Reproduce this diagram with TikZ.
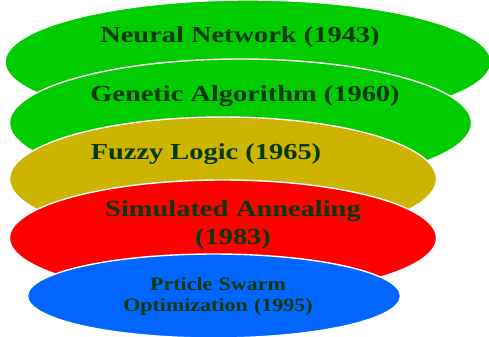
\documentclass[tikz,border=0pt]{standalone}
\usepackage{fontspec}
\setmainfont{Liberation Serif}
\newfontfamily\stretchedserif[FakeStretch=1.24]{Liberation Serif}
\newfontfamily\stretchedsmall[FakeStretch=1.16]{Liberation Serif}
\usetikzlibrary{shapes.geometric}
\definecolor{cgreen}{RGB}{0,204,0}
\definecolor{cgold}{RGB}{204,180,0}
\definecolor{cred}{RGB}{255,0,0}
\definecolor{cblue}{RGB}{0,102,255}
\definecolor{ctext}{RGB}{8,56,10}
\tikzset{
  disc/.style={ellipse,draw=white,line width=1.4bp,inner sep=0pt,outer sep=0pt},
  lab/.style={text=ctext,font=\stretchedserif\bfseries\fontsize{23}{23}\selectfont,align=center,inner sep=0pt},
  labsmall/.style={text=ctext,font=\stretchedsmall\bfseries\fontsize{19}{19}\selectfont,align=center,inner sep=0pt}
}
\begin{document}
\begin{tikzpicture}[x=1bp,y=-1bp]
\useasboundingbox (0,0) rectangle (489,336);
\node[disc,fill=cgreen,minimum width=486bp,minimum height=124bp] (e1) at (248,62) {};
\node[disc,fill=cgreen,minimum width=462bp,minimum height=128bp] (e2) at (240.5,123) {};
\node[disc,fill=cgold,minimum width=427bp,minimum height=124bp] (e3) at (223,179) {};
\node[disc,fill=cred,minimum width=427bp,minimum height=116bp] (e4) at (223,238) {};
\node[disc,fill=cblue,minimum width=373bp,minimum height=84bp] (e5) at (214,296) {};
\node[lab] (t1) at (240,37) {Neural Network (1943)};
\node[lab] (t2) at (245,96) {Genetic Algorithm (1960)};
\node[lab] (t3) at (206,154) {Fuzzy Logic (1965)};
\node[lab,text width=340bp] (t4) at (233,225) {Simulated Annealing\\[5bp](1983)};
\node[labsmall,text width=300bp] (t5) at (218,296) {Prticle Swarm\\[2bp]Optimization (1995)};
\end{tikzpicture}
\end{document}
